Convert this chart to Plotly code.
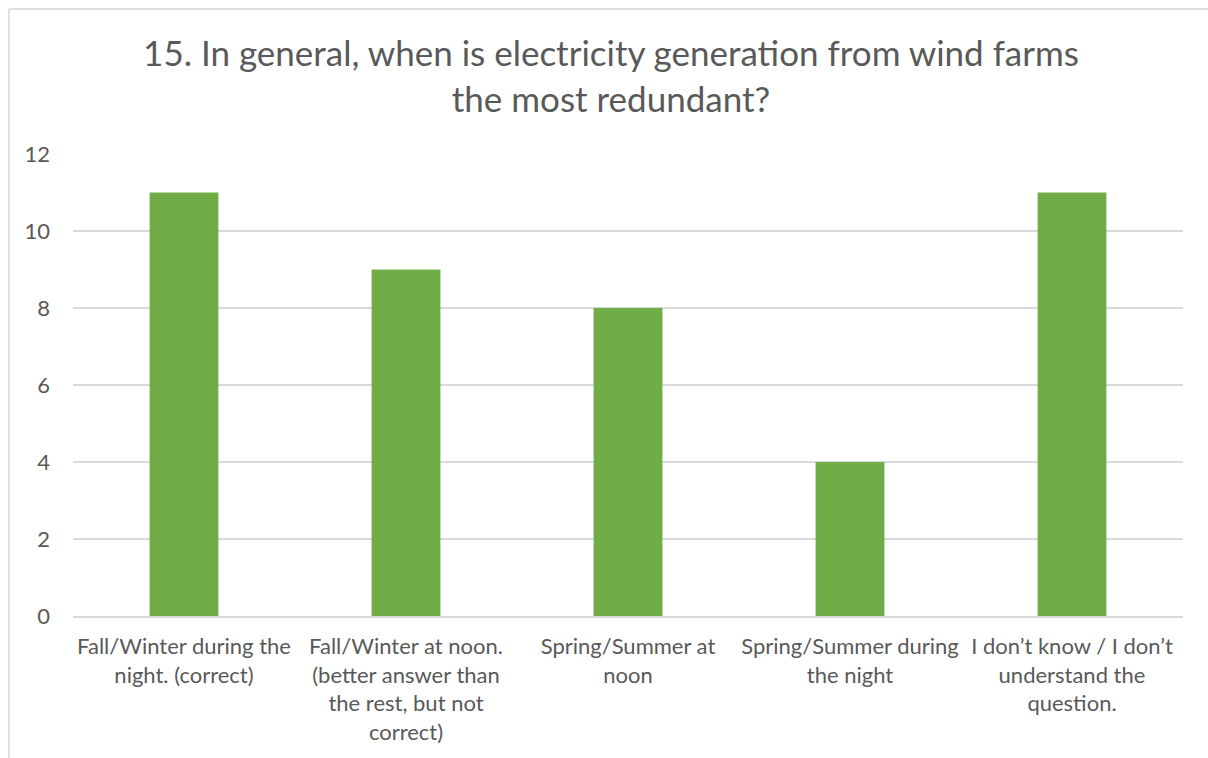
import plotly.graph_objects as go

# Survey answers and response counts
categories = [
    "Fall/Winter during the<br>night. (correct)",
    "Fall/Winter at noon.<br>(better answer than<br>the rest, but not<br>correct)",
    "Spring/Summer at<br>noon",
    "Spring/Summer during<br>the night",
    "I don’t know / I don’t<br>understand the<br>question.",
]
counts = [11, 9, 8, 4, 11]
y_ticks = [0, 2, 4, 6, 8, 10, 12]

title_text = ("15. In general, when is electricity generation from wind farms"
              "<br>the most redundant?")

TEXT = "#595959"
GRID = "#D9D9D9"
BAR = "#70AD47"
FONT = "Lato"

fig = go.Figure(
    go.Bar(
        x=categories,
        y=counts,
        marker=dict(color=BAR, line=dict(width=0)),
        width=0.31,
        hoverinfo="x+y",
    )
)

fig.update_layout(
    width=1208,
    height=758,
    margin=dict(l=73, r=25, t=154, b=142),
    paper_bgcolor="white",
    plot_bgcolor="white",
    font=dict(family=FONT, color=TEXT),
    showlegend=False,
    title=dict(
        text=title_text,
        x=611 / 1208,
        xanchor="center",
        xref="container",
        y=1 - 66 / 758,
        yanchor="top",
        yref="container",
        font=dict(family=FONT, size=35, color=TEXT),
    ),
    xaxis=dict(
        showgrid=False,
        showline=True,
        linecolor=GRID,
        linewidth=1.5,
        ticks="",
        tickfont=dict(family=FONT, size=22, color=TEXT),
        ticklabelstandoff=10,
        zeroline=False,
    ),
    yaxis=dict(
        range=[0, 12],
        tickvals=y_ticks,
        showgrid=True,
        gridcolor=GRID,
        gridwidth=1.5,
        showline=False,
        zeroline=False,
        ticks="",
        tickfont=dict(family=FONT, size=22, color=TEXT),
        ticklabelstandoff=22,
    ),
    bargap=0.69,
)

# Chart-area frame (left and top edges visible)
fig.add_shape(
    type="line", xref="paper", yref="paper",
    x0=-64 / 1110, x1=-64 / 1110, y0=-0.4, y1=(616 - 9) / 462,
    line=dict(color="#D6D6D6", width=1.5),
)
fig.add_shape(
    type="line", xref="paper", yref="paper",
    x0=-64 / 1110, x1=1.1, y0=(616 - 9) / 462, y1=(616 - 9) / 462,
    line=dict(color="#D6D6D6", width=1.5),
)

fig.write_html("out.html")
